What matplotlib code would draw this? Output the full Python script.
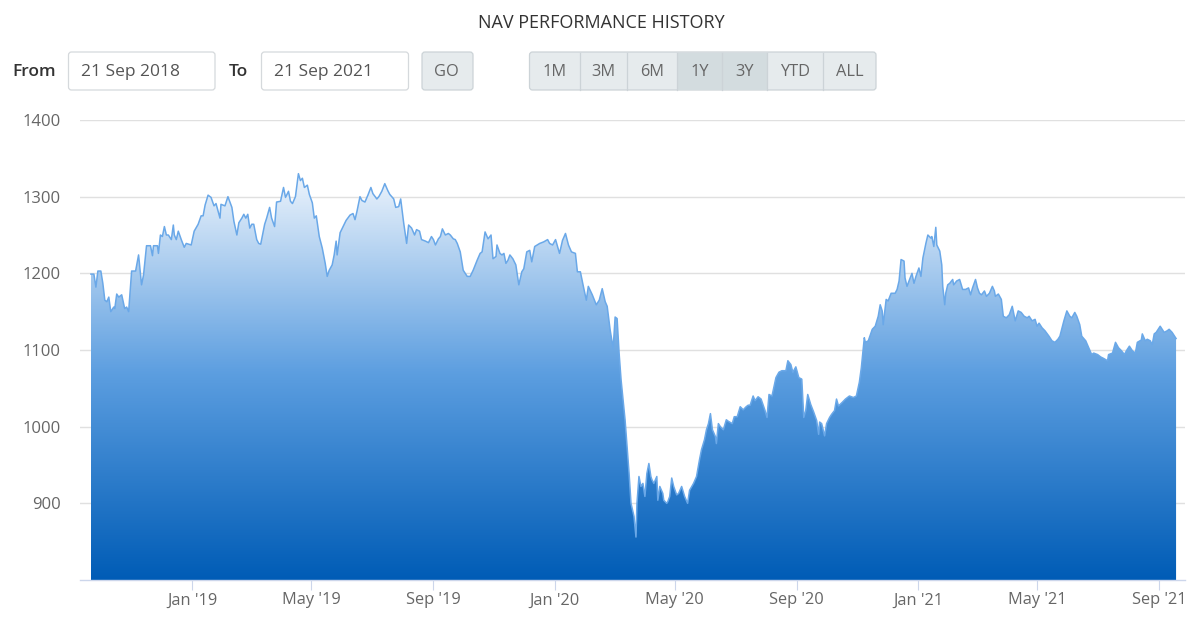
"""
NAV performance history: 3-year area chart with the range-selector strip on top.
Values read off the reference screenshot (day offset from 21 Sep 2018, NAV).
"""
import datetime as dt
import numpy as np
import matplotlib
matplotlib.use("Agg")
import matplotlib.pyplot as plt
import matplotlib.dates as mdates
from matplotlib.patches import FancyBboxPatch, Rectangle, Polygon
from matplotlib.colors import LinearSegmentedColormap

plt.rcParams["font.family"] = ["Open Sans", "DejaVu Sans"]

START = dt.date(2018, 9, 21)

# Sep 2018 - Sep 2019
DAY_A = [0, 3, 5, 7, 10, 12, 14, 16, 18, 20, 23, 24, 26, 28, 31, 34, 36, 38, 41, 45,
         48, 51, 53, 56, 60, 62, 63, 67, 68, 70, 72, 74, 76, 78, 81, 83, 84, 86, 88, 91,
         94, 96, 101, 104, 108, 111, 113, 115, 118, 121, 124, 126, 130, 131, 135, 138,
         142, 144, 147, 149, 152, 154, 156, 158, 160, 162, 164, 167, 169, 171, 175, 177,
         180, 182, 185, 187, 191, 194, 196, 199, 201, 203, 206, 209, 211, 213, 215, 218,
         220, 223, 225, 227, 230, 233, 236, 238, 240, 243, 245, 247, 248, 251, 254, 257,
         261, 264, 266, 268, 271, 273, 276, 279, 282, 284, 288, 290, 293, 296, 299, 301,
         305, 307, 310, 312, 315, 318, 320, 323, 326, 328, 331, 333, 337, 340, 343, 345,
         347, 350, 352, 354, 357, 360, 362, 365, 367]
NAV_A = [1199, 1199, 1182, 1203, 1203, 1187, 1165, 1163, 1169, 1150, 1156, 1154, 1173,
         1169, 1172, 1154, 1156, 1150, 1203, 1203, 1224, 1185, 1198, 1236, 1236, 1223,
         1236, 1236, 1226, 1250, 1248, 1261, 1250, 1250, 1244, 1263, 1250, 1244, 1255,
         1244, 1234, 1239, 1237, 1255, 1264, 1275, 1275, 1289, 1302, 1299, 1288, 1291,
         1272, 1290, 1288, 1300, 1286, 1268, 1250, 1266, 1272, 1277, 1272, 1277, 1259,
         1264, 1264, 1244, 1239, 1238, 1264, 1272, 1286, 1272, 1261, 1293, 1294, 1312,
         1299, 1307, 1294, 1291, 1300, 1330, 1321, 1324, 1312, 1315, 1303, 1292, 1272,
         1275, 1248, 1233, 1213, 1196, 1204, 1211, 1224, 1242, 1224, 1253, 1261, 1269,
         1276, 1278, 1270, 1281, 1300, 1295, 1293, 1302, 1312, 1304, 1297, 1300, 1307,
         1317, 1308, 1303, 1297, 1286, 1287, 1297, 1266, 1239, 1263, 1259, 1250, 1257,
         1255, 1244, 1242, 1240, 1248, 1244, 1237, 1245, 1248, 1258, 1250, 1252, 1250,
         1245, 1244]

# Sep 2019 - Jul 2020
DAY_B = [369, 372, 375, 379, 382, 385, 389, 392, 394, 397, 400, 403, 405, 408, 409, 412,
         414, 416, 418, 420, 422, 425, 428, 431, 434, 436, 439, 442, 444, 447, 452, 456,
         460, 462, 465, 468, 472, 475, 478, 481, 484, 488, 490, 493, 496, 499, 501, 505,
         509, 512, 515, 518, 520, 523, 526, 528, 530, 532, 534, 536, 538, 540, 542, 544,
         547, 549, 550, 552, 554, 556, 558, 560, 562, 564, 565, 567, 570, 571, 573, 576,
         577, 580, 581, 583, 585, 587, 590, 592, 595, 598, 601, 603, 607, 610, 613, 615,
         618, 620, 622, 624, 626, 629, 630, 632, 634, 637, 640, 642, 646, 648, 651, 654,
         657, 660, 662, 664]
NAV_B = [1239, 1228, 1204, 1196, 1196, 1204, 1217, 1226, 1228, 1254, 1245, 1250, 1219,
         1222, 1237, 1226, 1224, 1226, 1213, 1217, 1224, 1219, 1211, 1185, 1202, 1206,
         1228, 1230, 1215, 1235, 1239, 1241, 1244, 1239, 1237, 1244, 1226, 1243, 1252,
         1237, 1228, 1226, 1202, 1202, 1183, 1165, 1183, 1172, 1159, 1165, 1180, 1163,
         1157, 1126, 1102, 1143, 1141, 1096, 1061, 1035, 1009, 974, 940, 900, 883, 856,
         900, 935, 922, 926, 909, 939, 952, 935, 931, 926, 935, 904, 922, 913, 904, 900,
         902, 909, 933, 922, 911, 913, 922, 909, 900, 917, 926, 935, 957, 970, 983, 996,
         1004, 1017, 996, 987, 978, 1004, 1000, 996, 1009, 1007, 1004, 1013, 1013, 1026,
         1022, 1026, 1028, 1028]

# Jul 2020 - Sep 2021
DAY_C = [667, 669, 672, 675, 679, 681, 683, 686, 690, 693, 696, 700, 702, 705, 707, 710,
         713, 716, 718, 720, 722, 725, 728, 731, 733, 734, 736, 739, 741, 744, 746, 749,
         751, 753, 757, 760, 764, 768, 771, 774, 776, 779, 780, 783, 787, 790, 793, 795,
         797, 798, 801, 803, 806, 810, 812, 814, 816, 819, 820, 822, 824, 827, 829, 831,
         834, 836, 838, 841, 843, 846, 847, 849, 851, 852, 855, 857, 858, 860, 861, 863,
         865, 868, 869, 872, 875, 878, 881, 884, 886, 888, 891, 893, 895, 897, 900, 902,
         905, 908, 910, 911, 914, 917, 919, 922, 925, 928, 931, 934, 937, 940, 943, 945,
         948, 951, 953, 955, 958, 961, 965, 968, 971, 974, 976, 980, 983, 986, 988, 991,
         993, 996, 998, 1002, 1005, 1008, 1010, 1014, 1017, 1020, 1024, 1025, 1029, 1032,
         1035, 1038, 1041, 1043, 1046, 1049, 1052, 1054, 1058, 1059, 1062, 1064, 1067,
         1069, 1071, 1073, 1075, 1077, 1079, 1081, 1084, 1086, 1089, 1093]
NAV_C = [1040, 1034, 1039, 1036, 1021, 1012, 1042, 1040, 1064, 1071, 1073, 1073, 1086,
         1081, 1071, 1078, 1064, 1062, 1012, 1021, 1042, 1029, 1019, 1008, 990, 1006,
         1004, 988, 1004, 1012, 1016, 1021, 1036, 1027, 1032, 1036, 1040, 1038, 1040,
         1058, 1077, 1116, 1110, 1112, 1127, 1131, 1144, 1159, 1151, 1133, 1166, 1164,
         1174, 1174, 1179, 1190, 1218, 1216, 1194, 1183, 1190, 1200, 1187, 1196, 1207,
         1196, 1220, 1239, 1250, 1246, 1248, 1235, 1260, 1237, 1229, 1211, 1183, 1159,
         1174, 1185, 1187, 1192, 1185, 1190, 1192, 1179, 1179, 1181, 1172, 1181, 1192,
         1181, 1174, 1172, 1177, 1170, 1174, 1183, 1177, 1170, 1173, 1166, 1144, 1142,
         1146, 1157, 1138, 1151, 1149, 1144, 1142, 1144, 1138, 1140, 1131, 1135, 1129,
         1125, 1118, 1112, 1110, 1114, 1118, 1138, 1151, 1144, 1142, 1149, 1144, 1133,
         1118, 1112, 1103, 1094, 1096, 1094, 1091, 1089, 1086, 1094, 1096, 1110, 1103,
         1099, 1094, 1099, 1105, 1099, 1096, 1110, 1113, 1121, 1112, 1114, 1112, 1107,
         1121, 1123, 1127, 1131, 1127, 1123, 1125, 1127, 1123, 1115]

Y_TICKS = [900, 1000, 1100, 1200, 1300, 1400]
Y_MIN, Y_MAX = 800, 1400

RANGE_BUTTONS = ["1M", "3M", "6M", "1Y", "3Y", "YTD", "ALL"]
ACTIVE_BUTTONS = ["1Y", "3Y"]
FROM_TEXT, TO_TEXT = "21 Sep 2018", "21 Sep 2021"

TXT = "#666666"
AXIS_C = "#ccd6eb"


def main():
    days = DAY_A + DAY_B + DAY_C
    nav = np.array(NAV_A + NAV_B + NAV_C, dtype=float)
    dates = [START + dt.timedelta(days=d) for d in days]
    xs = mdates.date2num(dates)

    fig = plt.figure(figsize=(12, 6.25), dpi=100)
    ax = fig.add_axes([80 / 1200, 45 / 625, 1105 / 1200, 460 / 625])

    # gradient fill clipped to the area under the curve
    cmap = LinearSegmentedColormap.from_list(
        "nav", [(0, "#005cb6"), (0.5, "#5c9ee0"), (1, "#f2f7fd")])
    grad = np.linspace(0, 1, 256).reshape(-1, 1)
    im = ax.imshow(grad, aspect="auto", origin="lower", cmap=cmap,
                   extent=[xs[0], xs[-1], Y_MIN, nav.max() + 8], zorder=1)
    verts = np.vstack([np.column_stack([xs, nav]),
                       [[xs[-1], Y_MIN], [xs[0], Y_MIN]]])
    clip = Polygon(verts, closed=True, facecolor="none", edgecolor="none")
    ax.add_patch(clip)
    im.set_clip_path(clip)
    ax.plot(xs, nav, color="#6aa8e8", lw=1.1, zorder=3)

    ax.set_xlim(xs[0] - 11, xs[-1] + 9)
    ax.set_ylim(Y_MIN, Y_MAX)
    ax.set_yticks(Y_TICKS)
    ax.yaxis.grid(True, color="#e0e0e0", lw=1)
    ax.set_axisbelow(True)
    for s in ("top", "right", "left"):
        ax.spines[s].set_visible(False)
    ax.spines["bottom"].set_color(AXIS_C)
    ax.spines["bottom"].set_linewidth(1)
    ax.xaxis.set_major_locator(mdates.MonthLocator(bymonth=(1, 5, 9)))
    ax.xaxis.set_major_formatter(mdates.DateFormatter("%b '%y"))
    ax.tick_params(axis="x", direction="out", length=7, width=0.8, color=AXIS_C,
                   labelcolor=TXT, labelsize=11.8, pad=2)
    ax.tick_params(axis="y", length=0, labelcolor=TXT, labelsize=12, pad=14)

    # range selector strip, drawn in pixel coordinates
    ui = fig.add_axes([0, 0, 1, 1], zorder=-1)
    ui.set_xlim(0, 1200); ui.set_ylim(625, 0); ui.axis("off")
    ui.text(601, 23, "NAV PERFORMANCE HISTORY", ha="center", va="center",
            fontsize=13, color="#333333")

    def box(x0, x1, fc, ec):
        ui.add_patch(FancyBboxPatch((x0, 52), x1 - x0, 38, fc=fc, ec=ec, lw=0.9,
                                    boxstyle="round,pad=0,rounding_size=3"))

    ui.text(12, 72, "From", ha="left", va="center", fontsize=12.5,
            color="#333333", fontweight="semibold")
    box(68.5, 215, "white", "#d5d9dc")
    ui.text(81, 72, FROM_TEXT, ha="left", va="center", fontsize=12.5, color="#555555")
    ui.text(229, 72, "To", ha="left", va="center", fontsize=12.5,
            color="#333333", fontweight="semibold")
    box(261.5, 408.5, "white", "#d5d9dc")
    ui.text(274, 72, TO_TEXT, ha="left", va="center", fontsize=12.5, color="#555555")
    box(422, 473, "#e6ebed", "#ccd3d7")
    ui.text(446, 72, "GO", ha="center", va="center", fontsize=11.8, color=TXT)

    edges = [529.5, 579.5, 626.5, 677, 722, 767, 823, 876]
    box(edges[0], edges[-1], "#e6ebed", "#ccd3d7")
    for i, lab in enumerate(RANGE_BUTTONS):
        x0, x1 = edges[i], edges[i + 1]
        if lab in ACTIVE_BUTTONS:
            ui.add_patch(Rectangle((x0, 52.5), x1 - x0, 37, fc="#d3dcdf", ec="none"))
        if i > 0:
            ui.plot([x0, x0], [52.5, 89.5], color="#ccd3d7", lw=0.9)
        ui.text((x0 + x1) / 2, 72, lab, ha="center", va="center", fontsize=11.8, color=TXT)

    fig.savefig("out.png", dpi=100)


if __name__ == "__main__":
    main()
